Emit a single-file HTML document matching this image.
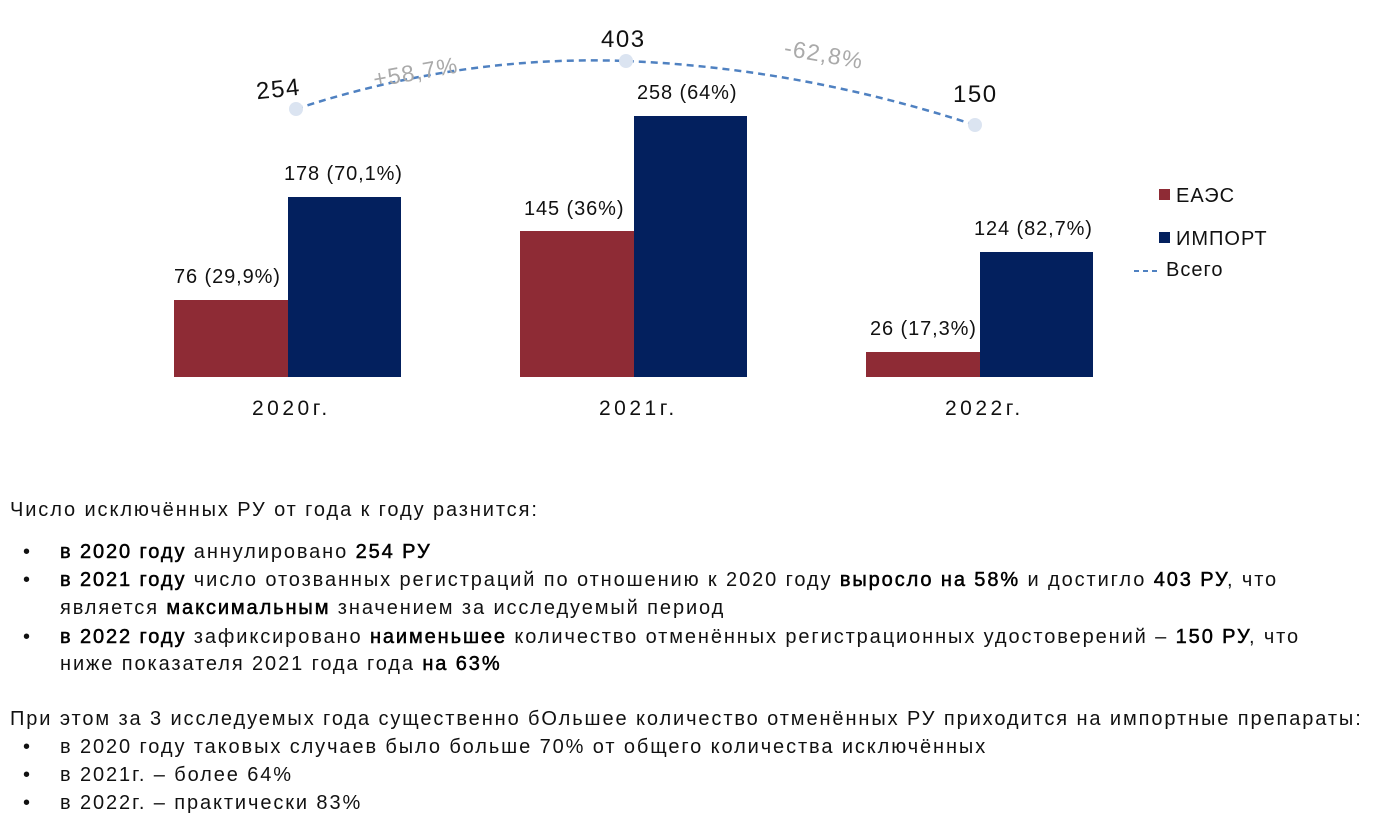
<!DOCTYPE html>
<html><head><meta charset="utf-8"><style>
body{margin:0;width:1379px;height:816px;background:#fff;position:relative;overflow:hidden;font-family:"Liberation Sans","DejaVu Sans",sans-serif;color:#111}
.l{position:absolute;font-size:20px;letter-spacing:1.9px;white-space:nowrap;left:10px;line-height:22px}
.b{position:absolute;font-size:20px;letter-spacing:1.9px;white-space:nowrap;left:60px;line-height:22px}
.b:before{content:"•";position:absolute;left:-37px}
b{font-weight:normal;color:#000;-webkit-text-stroke:0.5px #000}
</style></head><body>
<svg width="1379" height="470" style="position:absolute;left:0;top:0">
<rect x="174" y="300" width="114" height="77" fill="#8e2b35"/>
<rect x="288" y="197" width="113" height="180" fill="#03205e"/>
<rect x="520" y="231" width="114" height="146" fill="#8e2b35"/>
<rect x="634" y="116" width="113" height="261" fill="#03205e"/>
<rect x="866" y="352" width="114" height="25" fill="#8e2b35"/>
<rect x="980" y="252" width="113" height="125" fill="#03205e"/>
<path d="M296,109 Q460,55 626,61 Q800,68 975,125" fill="none" stroke="#4f81c1" stroke-width="2.5" stroke-dasharray="7,5"/>
<circle cx="296" cy="109" r="7" fill="#dbe4f1"/>
<circle cx="626" cy="61" r="7" fill="#dbe4f1"/>
<circle cx="975" cy="125" r="7" fill="#dbe4f1"/>
<rect x="1159" y="189" width="11" height="11" fill="#8e2b35"/>
<rect x="1159" y="232" width="11" height="11" fill="#03205e"/>
<line x1="1134" y1="271" x2="1160" y2="271" stroke="#4f81c1" stroke-width="2" stroke-dasharray="5,4"/>
<g font-family="Liberation Sans, sans-serif" font-size="20" fill="#111" letter-spacing="0.9">
<text x="256" y="97" font-size="24" letter-spacing="1.5" transform="rotate(-6 278 88)">254</text>
<text x="601" y="47" font-size="24" letter-spacing="1.5">403</text>
<text x="953" y="102" font-size="24" letter-spacing="1.5">150</text>
<text x="372" y="80" font-size="23" fill="#aaa" letter-spacing="1.2" transform="rotate(-10 415 68)">+58,7%</text>
<text x="782" y="62" font-size="23" fill="#aaa" letter-spacing="1.2" transform="rotate(10 822 65)">-62,8%</text>
<text x="174" y="283">76 (29,9%)</text>
<text x="284" y="180">178 (70,1%)</text>
<text x="524" y="215">145 (36%)</text>
<text x="637" y="99">258 (64%)</text>
<text x="870" y="335">26 (17,3%)</text>
<text x="974" y="235">124 (82,7%)</text>
<text x="252" y="415" font-size="21" letter-spacing="3.5">2020г.</text>
<text x="599" y="415" font-size="21" letter-spacing="3.5">2021г.</text>
<text x="945" y="415" font-size="21" letter-spacing="3.5">2022г.</text>
<text x="1176" y="202" font-size="20" letter-spacing="1">ЕАЭС</text>
<text x="1176" y="245" font-size="20" letter-spacing="1">ИМПОРТ</text>
<text x="1166" y="276" font-size="20" letter-spacing="1">Всего</text>
</g></svg>
<div class="l" style="top:499px">Число исключённых РУ от года к году разнится:</div>
<div class="b" style="top:541px"><b>в 2020 году</b> аннулировано <b>254 РУ</b></div>
<div class="b" style="top:569px"><b>в 2021 году</b> число отозванных регистраций по отношению к 2020 году <b>выросло на 58%</b> и достигло <b>403 РУ</b>, что</div>
<div class="l" style="top:597px;left:60px">является <b>максимальным</b> значением за исследуемый период</div>
<div class="b" style="top:626px"><b>в 2022 году</b> зафиксировано <b>наименьшее</b> количество отменённых регистрационных  удостоверений – <b>150 РУ</b>, что</div>
<div class="l" style="top:653px;left:60px">ниже показателя 2021 года года <b>на 63%</b></div>
<div class="l" style="top:708px">При этом за 3 исследуемых года существенно бОльшее количество отменённых РУ приходится на импортные препараты:</div>
<div class="b" style="top:736px">в 2020 году таковых случаев было больше 70% от общего количества исключённых</div>
<div class="b" style="top:764px">в 2021г. – более 64%</div>
<div class="b" style="top:792px">в 2022г. – практически 83%</div>
</body></html>
